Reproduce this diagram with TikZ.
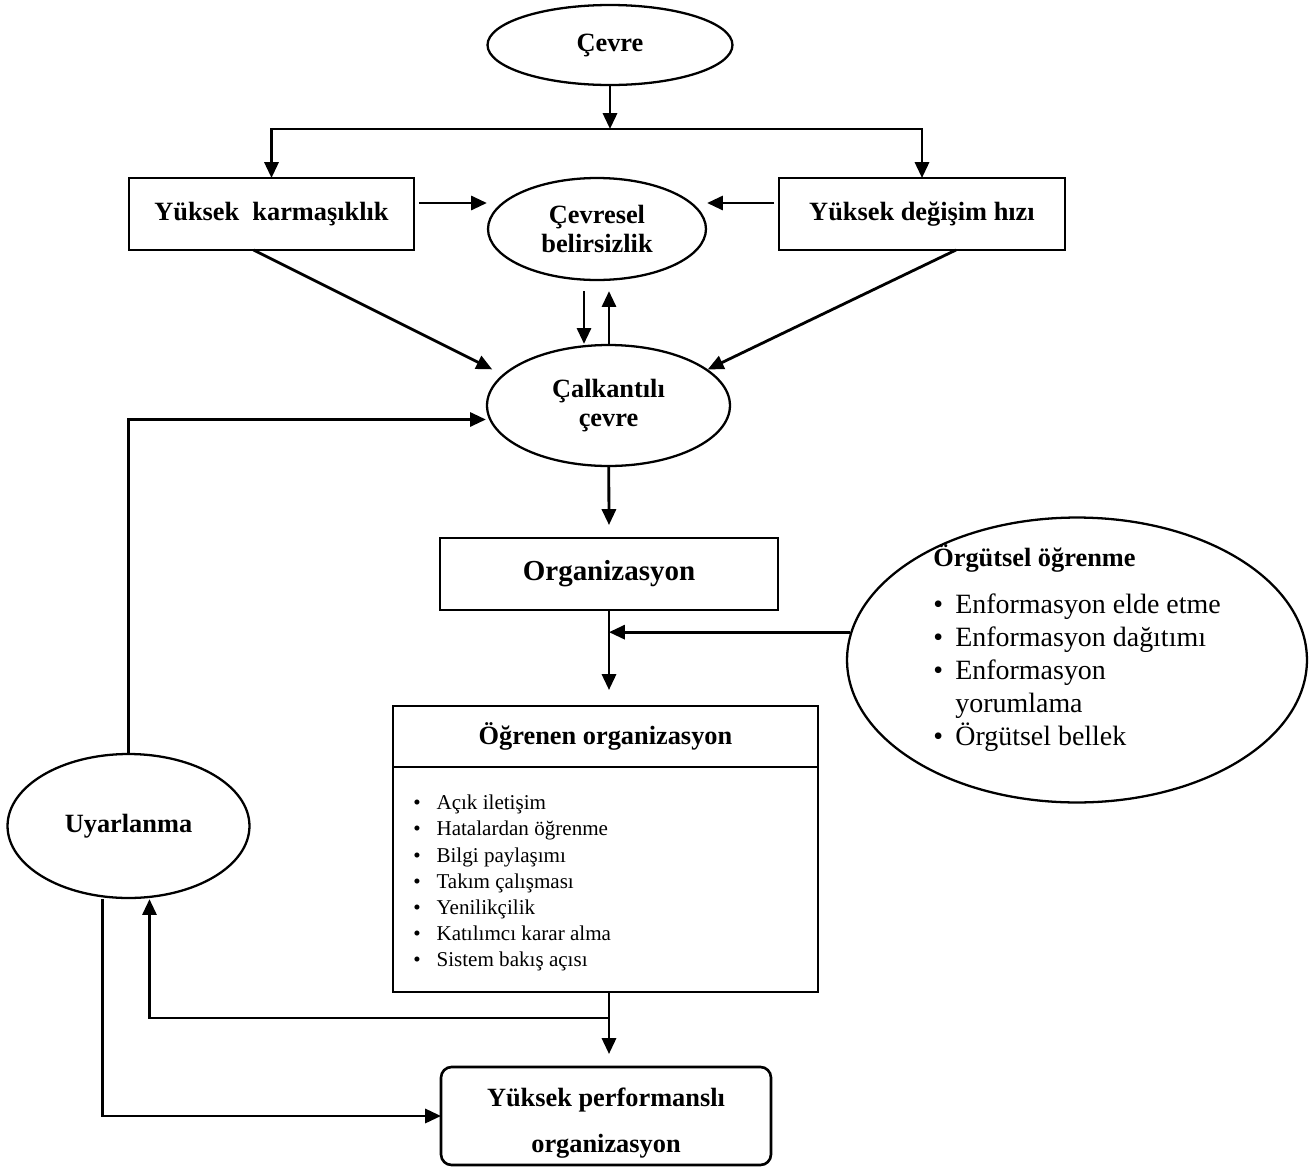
\documentclass[tikz,border=0pt]{standalone}
\usepackage{fontspec}
\setmainfont{Liberation Serif}
\usepackage{tikz}
\usetikzlibrary{shapes,arrows.meta,positioning,calc}
\newcommand{\diafont}{\fontsize{15}{17}\selectfont\bfseries}
\newcommand{\orgfont}{\fontsize{16.5}{19}\selectfont\bfseries}
\newcommand{\listfont}{\fontsize{15.9}{18.7}\selectfont}
\newcommand{\itemfont}{\fontsize{12}{14.7}\selectfont}

\begin{document}
\begin{tikzpicture}[x=0.02cm, y=-0.02cm,
    arr/.style={line width=1.6pt, -{Triangle[length=9pt,width=8pt]}},
    oval/.style={draw, ellipse, line width=1.3pt, inner sep=0pt, align=center, font=\diafont},
    box/.style={draw, rectangle, line width=1.5pt, inner sep=0pt, outer sep=0pt, align=center, font=\diafont},
    item/.style={inner sep=0pt, anchor=west, font=\itemfont, text height=8pt, text depth=2.5pt}]
    \useasboundingbox (0,0) rectangle (1313,1167);
    \node[oval, minimum width=4.9cm, minimum height=1.6cm] (cevre) at (610,45) {Çevre};
    \node[box, minimum width=5.7cm, minimum height=1.44cm] (karmasik) at (271.5,214) {Yüksek\ \ karmaşıklık};
    \node[box, minimum width=5.72cm, minimum height=1.44cm] (degisim) at (922,214) {Yüksek değişim hızı};
    \node[oval, minimum width=4.36cm, minimum height=2.04cm] (belirsiz) at (597,229) {Çevresel\\belirsizlik};
    \node[oval, minimum width=4.86cm, minimum height=2.42cm] (calkan) at (608.5,405.5) {Çalkantılı\\çevre};
    \node[box, minimum width=6.76cm, minimum height=1.44cm, font=\orgfont] (org) at (609,574) {Organizasyon};
    \node[box, minimum width=8.5cm, minimum height=1.22cm] (ogrenen) at (605.5,736.5) {Öğrenen organizasyon};
    \node[box, minimum width=8.5cm, minimum height=4.5cm, anchor=north] (ogrbody) at (ogrenen.south) {};
    \foreach \i/\txt in {0/Açık iletişim, 1/Hatalardan öğrenme, 2/Bilgi paylaşımı, 3/Takım çalışması,
                         4/Yenilikçilik, 5/Katılımcı karar alma, 6/Sistem bakış açısı} {
        \node[item] (item\i) at (413,805+26.1*\i) {\textbullet\hspace{9pt}\txt};
    }
    \node[oval, minimum width=9.2cm, minimum height=5.7cm] (orgutsel) at (1077,660) {};
    \node[align=left, font=\listfont] (orgtext) at ([yshift=0.24cm]orgutsel.center)
        {{\diafont Örgütsel öğrenme}\\[8pt]
         \textbullet\hspace{7pt}Enformasyon elde etme\\
         \textbullet\hspace{7pt}Enformasyon dağıtımı\\
         \textbullet\hspace{7pt}Enformasyon\\
         \phantom{\textbullet}\hspace{7pt}yorumlama\\
         \textbullet\hspace{7pt}Örgütsel bellek};
    \node[oval, minimum width=4.84cm, minimum height=2.88cm] (uyar) at (128.5,826) {Uyarlanma};
    \node[box, rounded corners=6pt, minimum width=6.6cm, minimum height=1.96cm] (perf) at (606,1116) {};
    \node[align=center, font=\diafont] (perftext) at ([yshift=-0.14cm]perf.center)
        {Yüksek performanslı\\[9.6pt]organizasyon};

    \coordinate (split) at (610,129);
    \draw[arr] (cevre) -- (split);
    \draw[arr] (split) -| (karmasik);
    \draw[arr] (split) -| (degisim);
    \coordinate (kA) at ([xshift=1mm,yshift=2.2mm]karmasik.east);
    \draw[arr] (kA) -- (kA -| belirsiz.west);
    \coordinate (dA) at ([xshift=-1mm,yshift=2.2mm]degisim.west);
    \draw[arr] (dA) -- (dA -| belirsiz.east);
    \draw[arr] ([xshift=-3.6mm]karmasik.south) -- ([xshift=-3.4mm]calkan.160);
    \draw[arr] ([xshift=6.8mm]degisim.south) -- (calkan.20);
    \coordinate (bdn) at ([xshift=-2.6mm,yshift=-2mm]belirsiz.south);
    \draw[arr] (bdn) -- (bdn |- calkan.north);
    \coordinate (bup) at ([xshift=2.4mm,yshift=-2mm]belirsiz.south);
    \draw[arr] (bup |- calkan.north) -- (bup);
    \draw[arr] (calkan) -- ([yshift=2.6mm]org.north);
    \draw[arr] (org.south) -- ($(org.south |- ogrenen.north)+(0,-16)$);
    \draw[arr] (orgutsel.173) -- (orgutsel.173 -| org.south);
    \coordinate (fork) at (609,1018);
    \draw[arr] (ogrbody.south -| fork) -- ($(perf.north -| fork)+(0,-13)$);
    \draw[arr] (fork) -| ([xshift=4.2mm]uyar.south);
    \draw[arr] ([xshift=-5.2mm]uyar.south) |- (perf.west);
    \draw[arr] (uyar) |- ([yshift=-2.8mm]calkan.west);
\end{tikzpicture}
\end{document}
